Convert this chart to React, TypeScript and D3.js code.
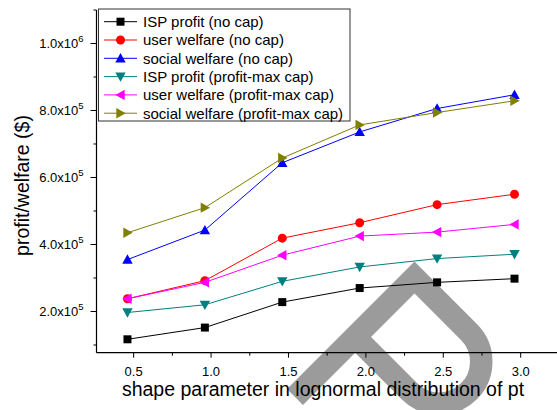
import React from "react";
import * as d3 from "d3";

const xValues = [0.46, 0.96, 1.46, 1.96, 2.46, 2.96];
const ispProfitNoCap = [117000, 152000, 228000, 270000, 287000, 298000];
const userWelfareNoCap = [238000, 292000, 419000, 465000, 519000, 550000];
const socialWelfareNoCap = [355000, 443000, 644000, 736000, 806000, 847000];
const ispProfitCap = [197000, 220000, 290000, 333000, 358000, 371000];
const userWelfareCap = [238000, 287000, 368000, 425000, 437000, 460000];
const socialWelfareCap = [435000, 510000, 658000, 757000, 794000, 829000];

const seriesNames = [
  "ISP profit (no cap)",
  "user welfare (no cap)",
  "social welfare (no cap)",
  "ISP profit (profit-max cap)",
  "user welfare (profit-max cap)",
  "social welfare (profit-max cap)",
];
const seriesColors = ["#000000", "#ff0000", "#0000ff", "#008080", "#ff00ff", "#808000"];
const seriesMarkers = ["square", "circle", "up", "down", "left", "right"];
const seriesData = [
  ispProfitNoCap,
  userWelfareNoCap,
  socialWelfareNoCap,
  ispProfitCap,
  userWelfareCap,
  socialWelfareCap,
];

const xMajorTicks = [0.5, 1.0, 1.5, 2.0, 2.5, 3.0];
const xMinorTicks = [0.75, 1.25, 1.75, 2.25, 2.75];
const yMajorTicks = [200000, 400000, 600000, 800000, 1000000];
const yMajorMantissa = ["2.0", "4.0", "6.0", "8.0", "1.0"];
const yMajorExp = ["5", "5", "5", "5", "6"];
const yMinorTicks = [100000, 300000, 500000, 700000, 900000, 1100000];

const xTitle = "shape parameter in lognormal distribution of pt";
const yTitle = "profit/welfare ($)";

const FONT = "'Liberation Sans', Arial, Helvetica, sans-serif";

function markerPath(kind: string, cx: number, cy: number): string {
  const s = 4;
  const t = 5.2;
  switch (kind) {
    case "square":
      return `M${cx - s},${cy - s}h${2 * s}v${2 * s}h${-2 * s}Z`;
    case "circle":
      return `M${cx - 4.5},${cy}a4.5,4.5 0 1,0 9,0a4.5,4.5 0 1,0 -9,0Z`;
    case "up":
      return `M${cx},${cy - t}L${cx + t},${cy + t * 0.8}L${cx - t},${cy + t * 0.8}Z`;
    case "down":
      return `M${cx},${cy + t}L${cx + t},${cy - t * 0.8}L${cx - t},${cy - t * 0.8}Z`;
    case "left":
      return `M${cx - t},${cy}L${cx + t * 0.8},${cy - t}L${cx + t * 0.8},${cy + t}Z`;
    case "right":
      return `M${cx + t},${cy}L${cx - t * 0.8},${cy - t}L${cx - t * 0.8},${cy + t}Z`;
  }
  return "";
}

export default function App() {
  const W = 557;
  const H = 410;
  const x = d3.scaleLinear().domain([0.26, 3.25]).range([96.5, 559.4]);
  const y = d3.scaleLinear().domain([77000, 1100000]).range([352.7, 10]);
  const axisX = 96.5;
  const axisY = 352.7;

  const line = d3
    .line<[number, number]>()
    .x((d) => x(d[0]))
    .y((d) => y(d[1]));

  // watermark geometry (rotated "P")
  const ox = 414.5;
  const oy = 277.5;
  const c = Math.SQRT1_2;
  const pt = (u: number, v: number) => [ox + u * c + v * c, oy - u * c + v * c];
  const a = pt(-169, 0);
  const b = pt(0, 0);
  const e = pt(0, 77);
  const f = pt(-84, 77);
  const g = pt(-84, 0);
  const wm = `M${a[0]},${a[1]}L${b[0]},${b[1]}L${e[0]},${e[1]}A42,42 0 0,1 ${f[0]},${f[1]}L${g[0]},${g[1]}`;

  const legendX = 98.5;
  const legendY = 9;
  const legendRowH = 18.3;

  return (
    <div style={{ position: "absolute", left: 0, top: 0 }}>
      <svg width={W} height={H} style={{ display: "block", background: "#fff" }} fontFamily={FONT}>
        <rect x={0} y={0} width={W} height={H} fill="#fff" />
        <path d={wm} fill="none" stroke="#9b9b9b" strokeWidth={22.5} strokeLinejoin="miter" />

        {/* axes */}
        <line x1={axisX} y1={10} x2={axisX} y2={axisY} stroke="#000" strokeWidth={1.2} />
        <line x1={axisX} y1={axisY} x2={W} y2={axisY} stroke="#000" strokeWidth={1.2} />

        {xMajorTicks.map((t) => (
          <g key={"xm" + t}>
            <line x1={x(t)} x2={x(t)} y1={axisY} y2={axisY + 5} stroke="#000" strokeWidth={1} />
            <text x={x(t)} y={375.5} fontSize={13} textAnchor="middle" fill="#000">
              {t.toFixed(1)}
            </text>
          </g>
        ))}
        {xMinorTicks.map((t) => (
          <line key={"xn" + t} x1={x(t)} x2={x(t)} y1={axisY} y2={axisY + 3} stroke="#000" strokeWidth={1} />
        ))}
        {yMajorTicks.map((t, i) => (
          <g key={"ym" + t}>
            <line x1={axisX - 6} x2={axisX} y1={y(t)} y2={y(t)} stroke="#000" strokeWidth={1} />
            <text x={83.5} y={y(t) + 5} fontSize={13} textAnchor="end" fill="#000">
              <tspan>{yMajorMantissa[i] + "x10"}</tspan>
              <tspan dy={-6.5} fontSize={9.5}>
                {yMajorExp[i]}
              </tspan>
            </text>
          </g>
        ))}
        {yMinorTicks.map((t) => (
          <line key={"yn" + t} x1={axisX - 3} x2={axisX} y1={y(t)} y2={y(t)} stroke="#000" strokeWidth={1} />
        ))}

        {/* series */}
        {seriesData.map((vals, si) => {
          const pts = vals.map((v, i) => [xValues[i], v] as [number, number]);
          return (
            <g key={"s" + si}>
              <path d={line(pts) || ""} fill="none" stroke={seriesColors[si]} strokeWidth={1} />
              {pts.map((p, i) => (
                <path key={i} d={markerPath(seriesMarkers[si], x(p[0]), y(p[1]))} fill={seriesColors[si]} />
              ))}
            </g>
          );
        })}

        {/* legend */}
        <rect x={legendX} y={legendY} width={251.5} height={112} fill="#fff" stroke="#333" strokeWidth={1} />
        {seriesNames.map((name, i) => {
          const cy = legendY + 12.7 + i * legendRowH;
          return (
            <g key={"l" + i}>
              <line x1={104} x2={137} y1={cy} y2={cy} stroke={seriesColors[i]} strokeWidth={1} />
              <path d={markerPath(seriesMarkers[i], 120.5, cy)} fill={seriesColors[i]} />
              <text x={143} y={cy + 5.3} fontSize={15} fill="#000">
                {name}
              </text>
            </g>
          );
        })}

        {/* titles */}
        <text x={323} y={395.5} fontSize={19.5} textAnchor="middle" fill="#000">
          {xTitle}
        </text>
        <text
          transform={`translate(29,185.5) rotate(-90)`}
          fontSize={19.5}
          textAnchor="middle"
          fill="#000"
        >
          {yTitle}
        </text>
      </svg>
    </div>
  );
}
